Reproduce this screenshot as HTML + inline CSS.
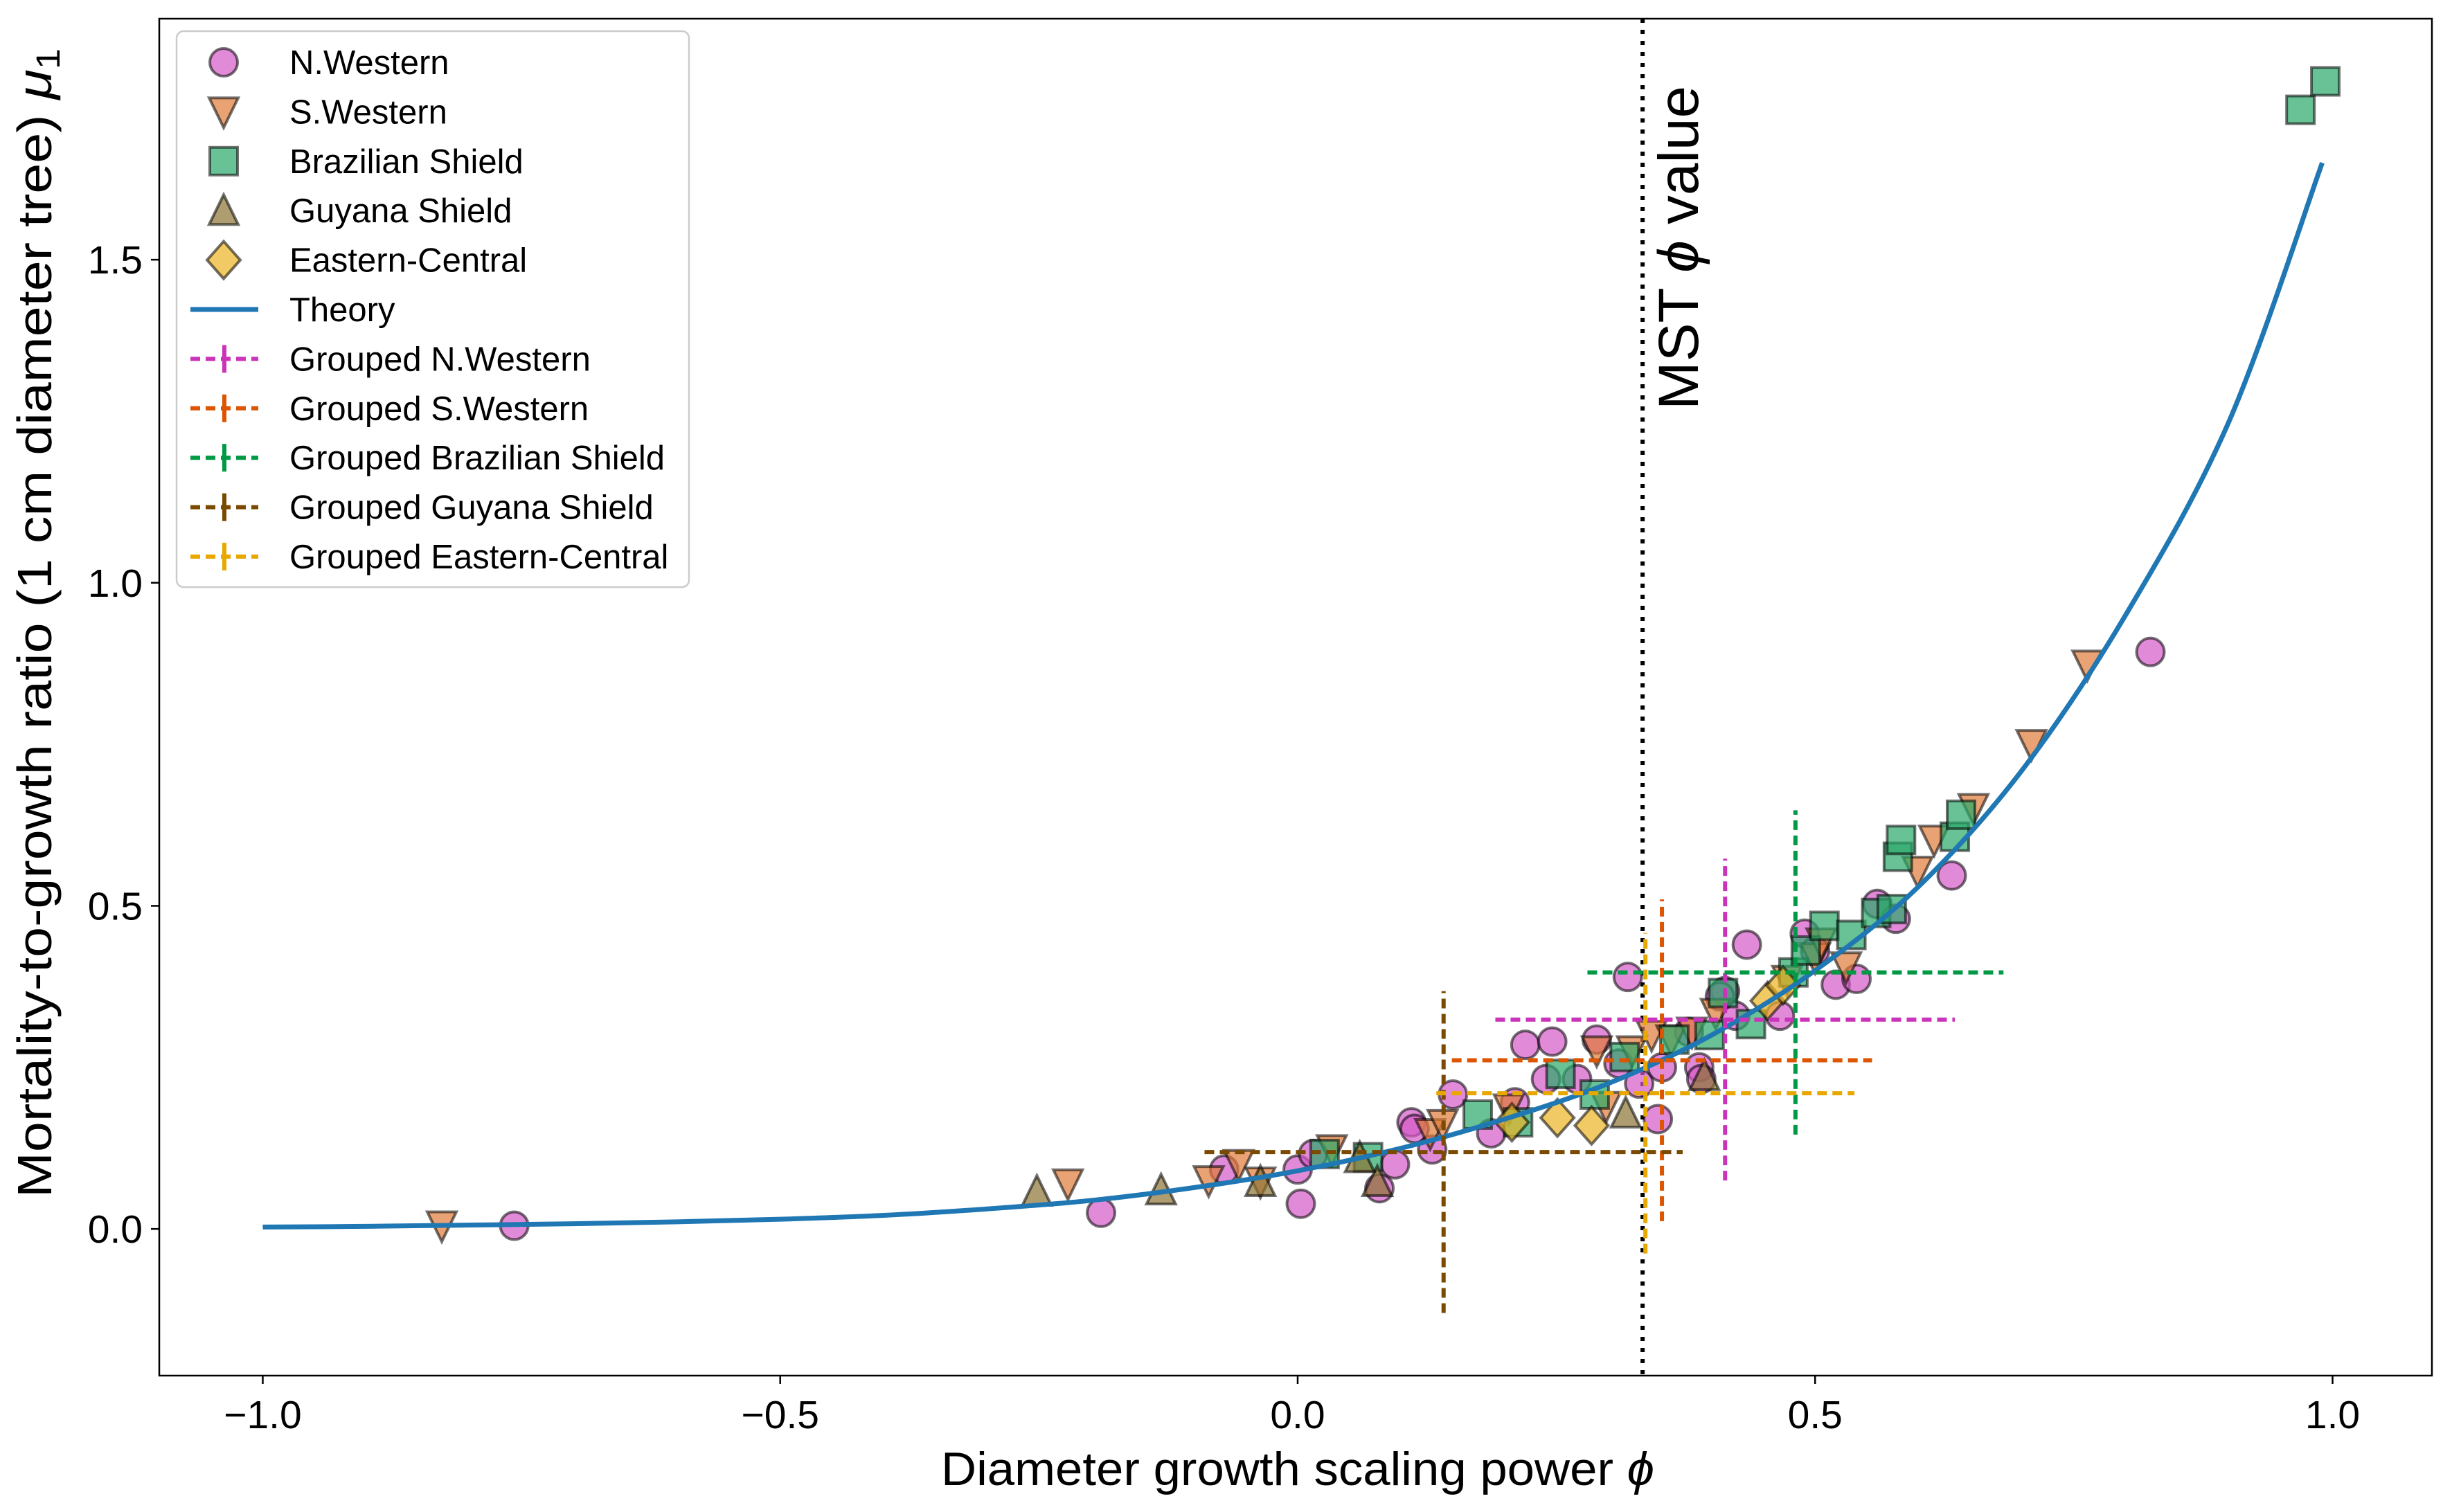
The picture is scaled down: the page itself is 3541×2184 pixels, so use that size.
<!DOCTYPE html>
<html><head><meta charset="utf-8">
<style>
html,body{margin:0;padding:0;background:#fff;}
svg{display:block;font-family:"Liberation Sans",Arial,sans-serif;}
</style></head>
<body>
<svg id="chart" width="3541" height="2184" viewBox="0 0 3541 2184" xmlns="http://www.w3.org/2000/svg">
<rect x="0" y="0" width="3541" height="2184" fill="#fff"/>
<g id="marks"></g>
<g id="axes"></g>
<g id="legend"></g>
</svg>
<script>
// ---- data ----
const theoryPhi = [-1,-0.9,-0.8,-0.7,-0.6,-0.5,-0.4,-0.3,-0.2,-0.1,0,0.1,0.2,0.3,0.4,0.5,0.6,0.7,0.8,0.9,0.99];
const theoryMu  = [0.003,0.004,0.006,0.008,0.011,0.015,0.021,0.031,0.044,0.064,0.09,0.125,0.17,0.225,0.30,0.40,0.53,0.71,0.95,1.25,1.65];

const nwPhi = [-0.757,-0.19,-0.071,0.003,0.0,0.015,0.079,0.094,0.11,0.113,0.13,0.15,0.187,0.21,0.22,0.24,0.246,0.27,0.289,0.31,0.319,0.33,0.348,0.352,0.388,0.39,0.413,0.423,0.434,0.466,0.49,0.5,0.52,0.54,0.56,0.578,0.632,0.824,0.408,0.378];
const nwMu  = [0.005,0.025,0.092,0.039,0.092,0.116,0.063,0.10,0.165,0.155,0.123,0.208,0.148,0.196,0.285,0.232,0.29,0.232,0.293,0.256,0.39,0.225,0.17,0.25,0.25,0.232,0.368,0.33,0.44,0.33,0.457,0.43,0.378,0.387,0.503,0.48,0.547,0.893,0.36,0.305];

const swPhi = [-0.827,-0.222,-0.086,-0.057,-0.036,0.033,0.128,0.14,0.204,0.289,0.298,0.323,0.342,0.361,0.381,0.404,0.473,0.5,0.506,0.53,0.599,0.615,0.653,0.709,0.763];
const swMu  = [0.005,0.07,0.075,0.10,0.073,0.123,0.148,0.162,0.186,0.276,0.19,0.276,0.30,0.293,0.305,0.334,0.385,0.42,0.443,0.406,0.554,0.602,0.651,0.75,0.873];

const bsPhi = [0.026,0.068,0.174,0.213,0.254,0.287,0.316,0.364,0.398,0.411,0.438,0.479,0.491,0.509,0.535,0.559,0.574,0.58,0.583,0.635,0.641,0.969,0.993];
const bsMu  = [0.116,0.111,0.177,0.165,0.24,0.208,0.266,0.293,0.30,0.365,0.317,0.397,0.431,0.469,0.455,0.489,0.495,0.576,0.602,0.607,0.641,1.732,1.776];

const gsPhi = [-0.252,-0.132,-0.036,0.077,0.317,0.393,0.06];
const gsMu  = [0.058,0.06,0.073,0.073,0.179,0.237,0.11];

const ecPhi = [0.207,0.251,0.284,0.454,0.469];
const ecMu  = [0.165,0.172,0.16,0.353,0.377];

const groupNames = ["N.Western","S.Western","Brazilian Shield","Guyana Shield","Eastern-Central"];
const groupPhi  = [0.413,0.352,0.481,0.141,0.336];
const groupMu   = [0.324,0.261,0.397,0.119,0.21];
const groupPhiErr = [0.222,0.203,0.201,0.231,0.202];
const groupMuErr  = [0.249,0.249,0.251,0.249,0.248];

const mstPhi = 0.3333;
const xTicks = [-1.0,-0.5,0.0,0.5,1.0];
const xTickLabels = ["\u22121.0","\u22120.5","0.0","0.5","1.0"];
const yTicks = [0.0,0.5,1.0,1.5];
const yTickLabels = ["0.0","0.5","1.0","1.5"];

// ---- layout ----
const L=230,R=3512,T=27,B=1987;
const xMin=-1.1,xMax=1.096,yMin=-0.227,yMax=1.873;
const X=v=>L+(v-xMin)/(xMax-xMin)*(R-L);
const Y=v=>B-(v-yMin)/(yMax-yMin)*(B-T);
const NS="http://www.w3.org/2000/svg";
function mk(tag,attrs,parent){const e=document.createElementNS(NS,tag);for(const k in attrs)e.setAttribute(k,attrs[k]);parent.appendChild(e);return e;}
const marks=document.getElementById('marks'),axes=document.getElementById('axes'),legend=document.getElementById('legend');

const styles={
 nw:{fill:"#d45ac8"},sw:{fill:"#e07b39"},bs:{fill:"#2aa86a"},gs:{fill:"#8c7333"},ec:{fill:"#ebb424"}
};
function marker(shape,cx,cy,fill,parent){
  const common={fill:fill,"fill-opacity":0.7,stroke:"#000","stroke-opacity":0.55,"stroke-width":4};
  let e;
  if(shape==="o"){e=mk('circle',Object.assign({cx:cx,cy:cy,r:20},common),parent);}
  else if(shape==="v"){e=mk('polygon',Object.assign({points:`${cx-21},${cy-20} ${cx+21},${cy-20} ${cx},${cy+23}`},common),parent);}
  else if(shape==="^"){e=mk('polygon',Object.assign({points:`${cx-21},${cy+20} ${cx+21},${cy+20} ${cx},${cy-23}`},common),parent);}
  else if(shape==="s"){e=mk('rect',Object.assign({x:cx-20,y:cy-20,width:40,height:40},common),parent);}
  else {e=mk('polygon',Object.assign({points:`${cx},${cy-27} ${cx+24},${cy} ${cx},${cy+27} ${cx-24},${cy}`},common),parent);}
  return e;
}

// MST line
const mst=mk('line',{x1:X(mstPhi),x2:X(mstPhi),y1:T,y2:B,stroke:"#000","stroke-width":6,"stroke-dasharray":"6 10"},marks);


const mstT=mk('text',{x:0,y:0,"font-size":82,transform:`translate(${X(mstPhi)+80},${358}) rotate(-90)`,"text-anchor":"middle",textLength:468,lengthAdjust:"spacingAndGlyphs"},marks);
mstT.innerHTML='MST <tspan font-style="italic">\u03D5</tspan> value';



// series
const series=[
 {key:"nw",shape:"o",phi:nwPhi,mu:nwMu,name:"n-western-point"},
 {key:"sw",shape:"v",phi:swPhi,mu:swMu,name:"s-western-point"},
 {key:"bs",shape:"s",phi:bsPhi,mu:bsMu,name:"brazilian-shield-point"},
 {key:"gs",shape:"^",phi:gsPhi,mu:gsMu,name:"guyana-shield-point"},
 {key:"ec",shape:"D",phi:ecPhi,mu:ecMu,name:"eastern-central-point"}
];
series.forEach(s=>{
  s.phi.forEach((p,i)=>{
    const e=marker(s.shape,X(p),Y(s.mu[i]),styles[s.key].fill,marks);
    
    
  });
});

// theory curve (Catmull-Rom through read points)
(function(){
  const P=theoryPhi.map((p,i)=>[X(p),Y(theoryMu[i])]);
  let d=`M${P[0][0]},${P[0][1]}`;
  for(let i=0;i<P.length-1;i++){
    const p0=P[Math.max(0,i-1)],p1=P[i],p2=P[i+1],p3=P[Math.min(P.length-1,i+2)];
    const c1=[p1[0]+(p2[0]-p0[0])/6,p1[1]+(p2[1]-p0[1])/6];
    const c2=[p2[0]-(p3[0]-p1[0])/6,p2[1]-(p3[1]-p1[1])/6];
    d+=` C${c1[0]},${c1[1]} ${c2[0]},${c2[1]} ${p2[0]},${p2[1]}`;
  }
  const e=mk('path',{d:d,fill:"none",stroke:"#1f77b4","stroke-width":7},marks);
  
  
})();

// grouped error bars
const groupColors=["#cc33bb","#dd5500","#009944","#7a4a00","#e8a800"];
const groupKeys=["grouped-n-western","grouped-s-western","grouped-brazilian-shield","grouped-guyana-shield","grouped-eastern-central"];
groupPhi.forEach((p,i)=>{
  const g=mk('g',{stroke:groupColors[i],"stroke-width":6,"stroke-dasharray":"14 8",fill:"none"},marks);
  
  
  mk('line',{x1:X(p-groupPhiErr[i]),x2:X(p+groupPhiErr[i]),y1:Y(groupMu[i]),y2:Y(groupMu[i])},g);
  mk('line',{x1:X(p),x2:X(p),y1:Y(groupMu[i]-groupMuErr[i]),y2:Y(groupMu[i]+groupMuErr[i])},g);
});

// axes
const frame=mk('rect',{x:L,y:T,width:R-L,height:B-T,fill:"none",stroke:"#000","stroke-width":2.5},axes);


xTicks.forEach((v,i)=>{
  mk('line',{x1:X(v),x2:X(v),y1:B,y2:B+12,stroke:"#000","stroke-width":2.5},axes);
  const t=mk('text',{x:X(v),y:B+76,"font-size":57,"text-anchor":"middle"},axes);
  t.textContent=xTickLabels[i];
  
  
});
yTicks.forEach((v,i)=>{
  mk('line',{x1:L-12,x2:L,y1:Y(v),y2:Y(v),stroke:"#000","stroke-width":2.5},axes);
  const t=mk('text',{x:L-24,y:Y(v)+20,"font-size":57,"text-anchor":"end"},axes);
  t.textContent=yTickLabels[i];
  
  
});
const xl=mk('text',{x:1874,y:2145,"font-size":68,"text-anchor":"middle",textLength:1030,lengthAdjust:"spacingAndGlyphs"},axes);
xl.innerHTML='Diameter growth scaling power <tspan font-style="italic">\u03D5</tspan>';


const yl=mk('text',{x:0,y:0,"font-size":70,"text-anchor":"middle",transform:"translate(74,900) rotate(-90)",textLength:1660,lengthAdjust:"spacingAndGlyphs"},axes);
yl.innerHTML='Mortality-to-growth ratio (1 cm diameter tree) <tspan font-style="italic">\u03BC</tspan><tspan font-size="48" dy="12">1</tspan>';



// legend
const lb=mk('rect',{x:255,y:45,width:740,height:803,rx:10,fill:"#fff","fill-opacity":0.85,stroke:"#ccc","stroke-width":2.5},legend);


const legendLabels=["N.Western","S.Western","Brazilian Shield","Guyana Shield","Eastern-Central","Theory","Grouped N.Western","Grouped S.Western","Grouped Brazilian Shield","Grouped Guyana Shield","Grouped Eastern-Central"];
legendLabels.forEach((lab,i)=>{
  const cy=90+i*71.4;
  const g=mk('g',{},legend);
  
  
  if(i<5){
    marker(series[i].shape,323,cy,styles[series[i].key].fill,g);
  } else if(i===5){
    mk('line',{x1:275,x2:373,y1:cy,y2:cy,stroke:"#1f77b4","stroke-width":7},g);
  } else {
    const c=groupColors[i-6];
    mk('line',{x1:275,x2:373,y1:cy,y2:cy,stroke:c,"stroke-width":6,"stroke-dasharray":"14 8"},g);
    mk('line',{x1:324,x2:324,y1:cy-20,y2:cy+20,stroke:c,"stroke-width":6},g);
  }
  const t=mk('text',{x:418,y:cy+17,"font-size":49},g);
  t.textContent=lab;
});
</script>
</body></html>
